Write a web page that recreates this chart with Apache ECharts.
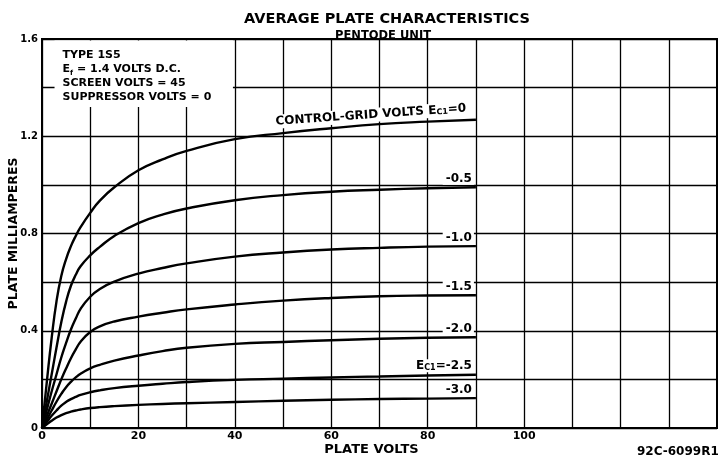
<!DOCTYPE html>
<html>
<head>
<meta charset="utf-8">
<script src="https://cdn.jsdelivr.net/npm/echarts@6/dist/echarts.min.js"></script>
<style>
  html, body { margin: 0; padding: 0; background: #fff; }
  #chart { width: 718px; height: 458px; }
</style>
</head>
<body>
<div id="chart"></div>
<script>
// plate volts sampled along every curve
const plateVolts = [0, 1, 2, 3, 4, 5, 6, 7, 8, 10, 12, 15, 20, 25, 30, 40, 50, 60, 70, 80, 90];
// plate milliamperes for each control-grid voltage
const ec1_0   = [0, 0.19, 0.37, 0.52, 0.625, 0.695, 0.748, 0.79, 0.826, 0.885, 0.935, 0.99, 1.06, 1.105, 1.14, 1.188, 1.213, 1.233, 1.25, 1.26, 1.268];
const ec1_m05 = [0, 0.11, 0.22, 0.33, 0.435, 0.52, 0.585, 0.63, 0.665, 0.71, 0.745, 0.79, 0.843, 0.878, 0.903, 0.937, 0.958, 0.972, 0.98, 0.986, 0.99];
const ec1_m10 = [0, 0.075, 0.15, 0.22, 0.29, 0.35, 0.405, 0.45, 0.49, 0.54, 0.572, 0.602, 0.635, 0.658, 0.677, 0.705, 0.722, 0.734, 0.741, 0.746, 0.748];
const ec1_m15 = [0, 0.05, 0.1, 0.15, 0.2, 0.245, 0.287, 0.323, 0.355, 0.395, 0.418, 0.438, 0.458, 0.474, 0.488, 0.508, 0.524, 0.535, 0.542, 0.545, 0.546];
const ec1_m20 = [0, 0.035, 0.072, 0.108, 0.14, 0.168, 0.19, 0.208, 0.223, 0.245, 0.26, 0.277, 0.298, 0.316, 0.33, 0.346, 0.354, 0.361, 0.367, 0.371, 0.373];
const ec1_m25 = [0, 0.025, 0.05, 0.072, 0.092, 0.107, 0.119, 0.128, 0.136, 0.147, 0.155, 0.164, 0.174, 0.182, 0.189, 0.198, 0.203, 0.208, 0.212, 0.216, 0.219];
const ec1_m30 = [0, 0.015, 0.03, 0.043, 0.053, 0.061, 0.067, 0.072, 0.076, 0.082, 0.086, 0.09, 0.095, 0.099, 0.102, 0.107, 0.112, 0.116, 0.119, 0.121, 0.123];

const curves = [ec1_0, ec1_m05, ec1_m10, ec1_m15, ec1_m20, ec1_m25, ec1_m30];
const curveLabels = ['CONTROL-GRID VOLTS E{sub|C1}=0', '-0.5', '-1.0', '-1.5', '-2.0', 'E{sub|C1}=-2.5', '-3.0'];

const xTickLabels = [0, 20, 40, 60, 80, 100];
const yTickLabels = ['0', '0.4', '0.8', '1.2', '1.6'];

const infoLines = ['TYPE 1S5', 'E{sub|f} = 1.4 VOLTS D.C.', 'SCREEN VOLTS = 45', 'SUPPRESSOR VOLTS = 0'];

const chart = echarts.init(document.getElementById('chart'));
const font = 'DejaVu Sans';
const subRich = { sub: { fontSize: 8, fontWeight: 'bold', fontFamily: font, verticalAlign: 'bottom', padding: [4, 0, 0, 0] } };

const series = curves.map(function (vals, i) {
    const s = {
        type: 'line',
        data: plateVolts.map(function (v, j) { return [v, vals[j]]; }),
        smooth: 0.5,
        showSymbol: false,
        lineStyle: { color: '#000', width: 2.4 },
        z: 3,
        endLabel: {
            show: true,
            formatter: curveLabels[i],
            align: 'right',
            distance: 0,
            offset: [-2, -9],
            color: '#000',
            fontFamily: font,
            fontWeight: 'bold',
            fontSize: 12,
            backgroundColor: '#fff',
            padding: [1, 2, 0, 3],
            rich: subRich
        }
    };
    if (i === 0) {
        s.endLabel.rotate = 4;
        s.endLabel.verticalAlign = 'bottom';
        s.endLabel.offset = [-6, -5];
        s.endLabel.padding = [1, 3, 1, 3];
    }
    return s;
});

// white info box in the top-left corner
series.push({
    type: 'line',
    data: [],
    silent: true,
    z: 2,
    markArea: {
        silent: true,
        itemStyle: { color: '#fff' },
        label: {
            show: true,
            position: 'insideTopLeft',
            distance: 8,
            formatter: infoLines.join('\n'),
            color: '#000',
            fontFamily: font,
            fontWeight: 'bold',
            fontSize: 11,
            lineHeight: 14,
            rich: {
                sub: { fontSize: 7, fontWeight: 'bold', fontFamily: font, verticalAlign: 'bottom', lineHeight: 14, padding: [4, 0, 0, 0] }
            }
        },
        data: [[{ coord: [2.6, 1.594] }, { coord: [39.6, 1.32] }]]
    }
});

const option = {
    backgroundColor: '#fff',
    animation: false,
    title: [
        {
            text: 'AVERAGE PLATE CHARACTERISTICS',
            left: 382, top: 7, textAlign: 'center',
            textStyle: { fontFamily: font, fontWeight: 'bold', fontSize: 14.5, color: '#000' }
        },
        {
            text: 'PENTODE UNIT',
            left: 378, top: 25, textAlign: 'center',
            textStyle: { fontFamily: font, fontWeight: 'bold', fontSize: 11.5, color: '#000' }
        }
    ],
    graphic: [{
        type: 'text', left: 637, top: 446,
        style: { text: '92C-6099R1', fontFamily: font, fontWeight: 'bold', fontSize: 12, fill: '#000' }
    }],
    grid: {
        left: 42, right: 1, top: 39, bottom: 30,
        outerBoundsMode: 'none',
        containLabel: false,
        show: true, borderColor: '#000', borderWidth: 2
    },
    xAxis: {
        type: 'value', min: 0, max: 140, interval: 10,
        name: 'PLATE VOLTS', nameLocation: 'middle', nameGap: 15, nameMoveOverlap: false,
        nameTextStyle: { fontFamily: font, fontWeight: 'bold', fontSize: 13, color: '#000', padding: [0, 16, 0, 0] },
        axisLine: { lineStyle: { color: '#000', width: 2 } },
        axisTick: { show: false },
        axisLabel: {
            margin: 3, color: '#000', fontFamily: font, fontWeight: 'bold', fontSize: 11,
            formatter: function (v) { return xTickLabels.indexOf(v) >= 0 ? String(v) : ''; }
        },
        splitLine: { lineStyle: { color: '#000', width: 1.3 } }
    },
    yAxis: {
        type: 'value', min: 0, max: 1.6, interval: 0.2,
        name: 'PLATE MILLIAMPERES', nameLocation: 'middle', nameGap: 22, nameRotate: 90, nameMoveOverlap: false,
        nameTextStyle: { fontFamily: font, fontWeight: 'bold', fontSize: 12.5, color: '#000' },
        axisLine: { lineStyle: { color: '#000', width: 2 } },
        axisTick: { show: false },
        axisLabel: {
            margin: 4, color: '#000', fontFamily: font, fontWeight: 'bold', fontSize: 10,
            formatter: function (v) {
                const s = v === 0 ? '0' : v.toFixed(1);
                return yTickLabels.indexOf(s) >= 0 ? s : '';
            }
        },
        splitLine: { lineStyle: { color: '#000', width: 1.3 } }
    },
    series: series
};
chart.setOption(option);
</script>
</body>
</html>
